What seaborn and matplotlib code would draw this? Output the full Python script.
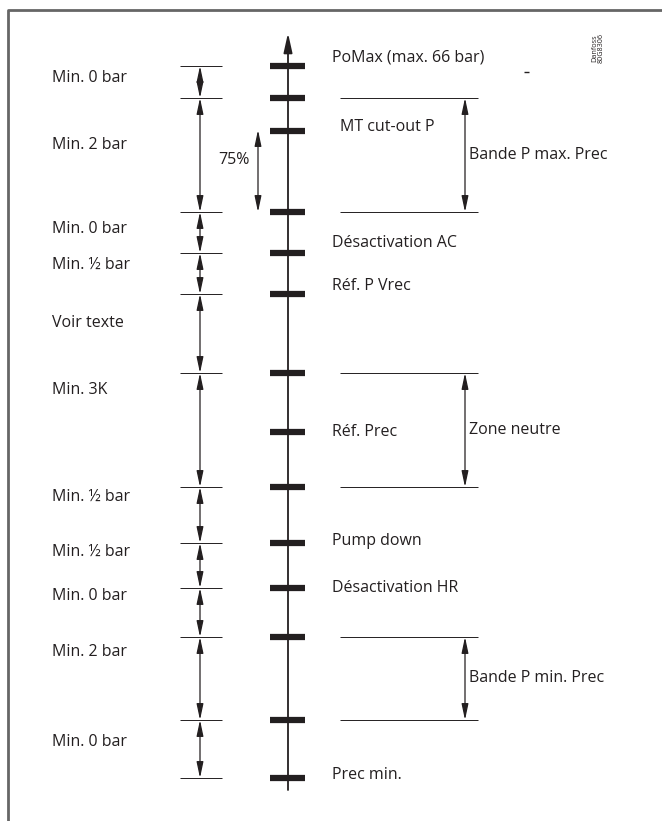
import numpy as np
import seaborn as sns
import matplotlib.pyplot as plt

sns.set_theme(style="white")
plt.rcParams['font.family'] = ['Open Sans', 'DejaVu Sans']

# levels on the central pressure axis (diagram units, top = 0)
tick_levels = [66, 98, 131, 212, 253, 294, 373, 432, 487, 543, 588, 637, 720, 778]

# right-hand labels of the axis
axis_labels = ["PoMax (max. 66 bar)", "MT cut-out P", "Désactivation AC", "Réf. P Vrec",
               "Réf. Prec", "Pump down", "Désactivation HR", "Prec min."]
axis_label_y = [58, 127, 243, 286, 432, 541, 588, 775]
axis_label_x = [332, 340, 332, 332, 332, 332, 332, 332]

# left dimension chain
left_marks = [66, 98, 212, 253, 294, 373, 487, 543, 588, 637, 720, 778]
left_labels = ["Min. 0 bar", "Min. 2 bar", "Min. 0 bar", "Min. ½ bar", "Voir texte",
               "Min. 3K", "Min. ½ bar", "Min. ½ bar", "Min. 0 bar", "Min. 2 bar", "Min. 0 bar"]
left_label_y = [78, 145, 229, 265, 323, 390, 497, 552, 596, 652, 742]

# right dimension bands
bands = ["Bande P max. Prec", "Zone neutre", "Bande P min. Prec"]
band_top = [98, 373, 637]
band_bot = [212, 487, 720]

ink = '#231f20'
fs = 11.5
arrow_kw = dict(arrowstyle='<|-|>,head_length=0.8,head_width=0.17', mutation_scale=12,
                lw=0.9, color=ink, shrinkA=0, shrinkB=0)

fig = plt.figure(figsize=(6.62, 8.21), dpi=100)
ax = fig.add_axes([0, 0, 1, 1])
ax.set_xlim(0, 662)
ax.set_ylim(821, 0)
ax.axis('off')

# frame (only top and left visible)
ax.plot([8, 8, 662], [821, 10, 10], color='#666666', lw=2, solid_capstyle='butt')

# main axis with arrow
ax.annotate('', xy=(288, 33), xytext=(288, 790),
            arrowprops=dict(arrowstyle='-|>,head_length=0.9,head_width=0.2', mutation_scale=13,
                            lw=1.3, color=ink, shrinkA=0, shrinkB=0))
ax.hlines(tick_levels, 270, 305, color=ink, lw=4.5)

for txt, x, y in zip(axis_labels, axis_label_x, axis_label_y):
    ax.text(x, y, txt, fontsize=fs, color=ink, va='center', ha='left')

# left chain
ax.hlines(left_marks, 180, 222, color=ink, lw=0.7)
for y0, y1 in zip(left_marks[:-1], left_marks[1:]):
    ax.annotate('', xy=(200, y0), xytext=(200, y1), arrowprops=arrow_kw)
for txt, y in zip(left_labels, left_label_y):
    ax.text(52, y, txt, fontsize=fs, color=ink, va='center', ha='left')

# 75% arrow
ax.text(218, 160, "75%", fontsize=fs, color=ink, va='center', ha='left')
ax.annotate('', xy=(258, 130), xytext=(258, 212), arrowprops=arrow_kw)

# right bands
for txt, y0, y1 in zip(bands, band_top, band_bot):
    ax.hlines([y0, y1], 340, 478, color=ink, lw=0.7)
    ax.annotate('', xy=(465, y0), xytext=(465, y1), arrowprops=arrow_kw)
    ax.text(469, (y0 + y1) / 2, txt, fontsize=fs, color=ink, va='center', ha='left')

# small stray mark and drawing reference
ax.hlines(72, 524, 529, color=ink, lw=1)
ax.text(598, 48, "Danfoss\n80G8306", fontsize=5.2, color=ink, rotation=90,
        va='center', ha='center', linespacing=1.0)

fig.savefig('out.png', dpi=100)
